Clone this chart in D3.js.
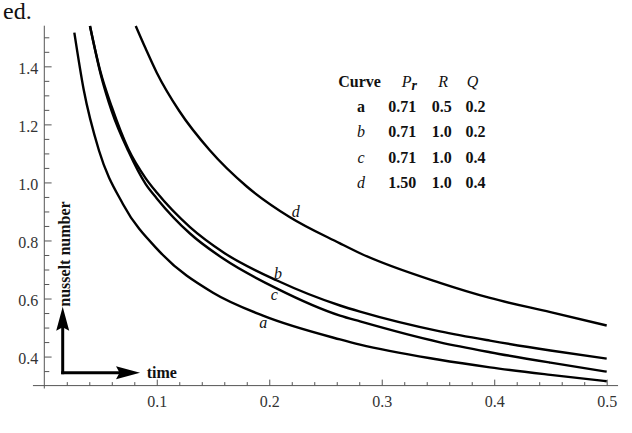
<!DOCTYPE html>
<html>
<head>
<meta charset="utf-8">
<script src="https://cdn.jsdelivr.net/npm/d3@7"></script>
<style>
  html, body { margin: 0; padding: 0; background: #fff; }
  svg { display: block; }
  text { font-family: "Liberation Serif", "Times New Roman", "DejaVu Serif", serif; }
</style>
</head>
<body>
<svg id="chart" width="632" height="433"></svg>
<script>
// ---- data ----
const timeA = [0.0267, 0.035, 0.0486, 0.07, 0.1029, 0.15, 0.1944, 0.2629, 0.2807, 0.35, 0.3962, 0.45, 0.5];
const nuA   = [1.516, 1.32, 1.110, 0.925, 0.760, 0.62, 0.541, 0.459, 0.441, 0.39, 0.363, 0.337, 0.315];

const timeB = [0.0406, 0.05, 0.06, 0.0747, 0.09, 0.1, 0.1295, 0.16, 0.2069, 0.2629, 0.2807, 0.3518, 0.3962, 0.45, 0.5];
const nuB   = [1.539, 1.38, 1.26, 1.115, 1.015, 0.965, 0.846, 0.757, 0.662, 0.576, 0.555, 0.487, 0.455, 0.421, 0.393];

const timeC = [0.0406, 0.05, 0.06, 0.0747, 0.09, 0.1, 0.1295, 0.16, 0.2069, 0.2629, 0.2807, 0.3518, 0.3962, 0.45, 0.5];
const nuC   = [1.539, 1.375, 1.245, 1.108, 0.995, 0.945, 0.824, 0.735, 0.634, 0.541, 0.521, 0.449, 0.415, 0.379, 0.348];

const timeD = [0.0813, 0.09, 0.1, 0.12, 0.1473, 0.18, 0.2184, 0.2629, 0.2807, 0.3518, 0.3962, 0.45, 0.5];
const nuD   = [1.539, 1.462, 1.378, 1.246, 1.110, 0.986, 0.880, 0.790, 0.756, 0.654, 0.602, 0.553, 0.507];

const curveNames = ["a", "b", "c", "d"];
const prValues = ["0.71", "0.71", "0.71", "1.50"];
const rValues  = ["0.5", "1.0", "1.0", "1.0"];
const qValues  = ["0.2", "0.2", "0.4", "0.4"];

// curve label anchors in data units (time, nusselt number)
const labelTime = [0.1946, 0.2078, 0.2044, 0.2236];
const labelNu   = [0.497, 0.667, 0.595, 0.882];

const xTickLabels = [0.1, 0.2, 0.3, 0.4, 0.5];
const yTickLabels = [0.4, 0.6, 0.8, 1.0, 1.2, 1.4];

// ---- drawing ----
const svg = d3.select("#chart");
const x = d3.scaleLinear().domain([0, 0.5]).range([44.3, 606.7]);
const y = d3.scaleLinear().domain([0.3, 1.54]).range([385.6, 25.7]);

const axisColor = "#555";
const textColor = "#333";

// stray text from the source page
svg.append("text").attr("x", 3).attr("y", 19)
  .attr("font-size", 24).attr("fill", "#111").text("ed.");

// x axis
const gx = svg.append("g").attr("transform", `translate(0,${y(0.3)})`);
gx.append("line").attr("x1", x(-0.0101)).attr("x2", x(0.5101))
  .attr("stroke", axisColor).attr("stroke-width", 1);
const xMinor = d3.range(0.02, 0.5001, 0.02).filter(v => Math.abs(v * 10 - Math.round(v * 10)) > 1e-6);
gx.call(d3.axisBottom(x).tickValues(xMinor).tickSizeInner(-3.5).tickSizeOuter(0).tickFormat(""))
  .call(g => g.select(".domain").remove());
const gx2 = svg.append("g").attr("transform", `translate(0,${y(0.3)})`)
  .call(d3.axisBottom(x).tickValues(xTickLabels).tickSizeInner(-6).tickSizeOuter(0).tickPadding(10)
    .tickFormat(d3.format(".1f")))
  .call(g => g.select(".domain").remove());
gx2.selectAll("text").attr("font-size", 16).attr("fill", textColor)
  .style("font-family", '"Liberation Serif", "Times New Roman", serif');

// y axis
const gy = svg.append("g").attr("transform", `translate(${x(0)},0)`);
gy.append("line").attr("y1", y(1.54)).attr("y2", y(0.29))
  .attr("stroke", axisColor).attr("stroke-width", 1);
const yMinor = d3.range(0.35, 1.5001, 0.05).filter(v => Math.abs(v * 5 - Math.round(v * 5)) > 1e-6);
gy.call(d3.axisLeft(y).tickValues(yMinor).tickSizeInner(-5).tickSizeOuter(0).tickFormat(""))
  .call(g => g.select(".domain").remove());
const gy2 = svg.append("g").attr("transform", `translate(${x(0)},0)`)
  .call(d3.axisLeft(y).tickValues(yTickLabels).tickSizeInner(-7.3).tickSizeOuter(0).tickPadding(6)
    .tickFormat(d3.format(".1f")))
  .call(g => g.select(".domain").remove());
gy2.selectAll("text").attr("font-size", 16).attr("fill", textColor).attr("dy", "0.46em")
  .style("font-family", '"Liberation Serif", "Times New Roman", serif');
svg.selectAll(".tick line").attr("stroke", axisColor);

// curves
const line = d3.line().x(d => x(d[0])).y(d => y(d[1])).curve(d3.curveMonotoneX);
const series = [
  d3.zip(timeA, nuA), d3.zip(timeB, nuB), d3.zip(timeC, nuC), d3.zip(timeD, nuD)
];
svg.append("g").selectAll("path").data(series).join("path")
  .attr("d", line).attr("fill", "none").attr("stroke", "#000").attr("stroke-width", 2.4);

// curve labels
svg.append("g").selectAll("text").data(curveNames).join("text")
  .attr("x", (d, i) => x(labelTime[i])).attr("y", (d, i) => y(labelNu[i]))
  .attr("text-anchor", "middle").attr("font-size", 16).attr("font-style", "italic")
  .attr("fill", "#111").text(d => d);

// legend table
const rowY = i => 86.8 + i * 25.3;
const tbl = svg.append("g").attr("fill", "#111").attr("font-size", 16);
tbl.append("text").attr("x", 338.3).attr("y", rowY(0)).attr("font-weight", "bold").text("Curve");
const pr = tbl.append("text").attr("x", 401.7).attr("y", rowY(0));
pr.append("tspan").attr("font-style", "italic").text("P");
pr.append("tspan").attr("font-style", "italic").attr("font-weight", "bold")
  .attr("font-size", 14).attr("dy", 3.5).text("r");
tbl.append("text").attr("x", 438.3).attr("y", rowY(0)).attr("font-style", "italic").text("R");
tbl.append("text").attr("x", 466.7).attr("y", rowY(0)).attr("font-style", "italic").text("Q");

curveNames.forEach((c, i) => {
  const yy = rowY(i + 1);
  tbl.append("text").attr("x", 361).attr("y", yy).attr("text-anchor", "middle")
    .attr("font-weight", i === 0 ? "bold" : "normal")
    .attr("font-style", i === 0 ? "normal" : "italic").text(c);
  tbl.append("text").attr("x", 388.3).attr("y", yy).attr("font-weight", "bold").text(prValues[i]);
  tbl.append("text").attr("x", 431.7).attr("y", yy).attr("font-weight", "bold").text(rValues[i]);
  tbl.append("text").attr("x", 465.5).attr("y", yy).attr("font-weight", "bold").text(qValues[i]);
});

// axis-direction arrows with titles
const ox = x(0.01636), oy = y(0.3445);
const vTip = y(0.5719), hTip = x(0.0851);
const arr = svg.append("g");
arr.append("line").attr("x1", ox).attr("y1", oy + 1.5).attr("x2", ox).attr("y2", vTip + 18)
  .attr("stroke", "#000").attr("stroke-width", 3);
arr.append("line").attr("x1", ox - 1.5).attr("y1", oy).attr("x2", hTip - 18).attr("y2", oy)
  .attr("stroke", "#000").attr("stroke-width", 3);
arr.append("path")
  .attr("d", `M${ox},${vTip} L${ox - 6.5},${vTip + 24} L${ox},${vTip + 20.5} L${ox + 6.5},${vTip + 24} Z`)
  .attr("fill", "#000");
arr.append("path")
  .attr("d", `M${hTip},${oy} L${hTip - 24},${oy - 6.5} L${hTip - 20.5},${oy} L${hTip - 24},${oy + 6.5} Z`)
  .attr("fill", "#000");
svg.append("text").attr("transform", `translate(${ox + 7},${vTip}) rotate(-90)`)
  .attr("font-size", 16).attr("font-weight", "bold").attr("fill", "#111").text("nusselt number");
svg.append("text").attr("x", hTip + 6.7).attr("y", oy + 5.6)
  .attr("font-size", 16).attr("font-weight", "bold").attr("fill", "#111").text("time");
</script>
</body>
</html>
